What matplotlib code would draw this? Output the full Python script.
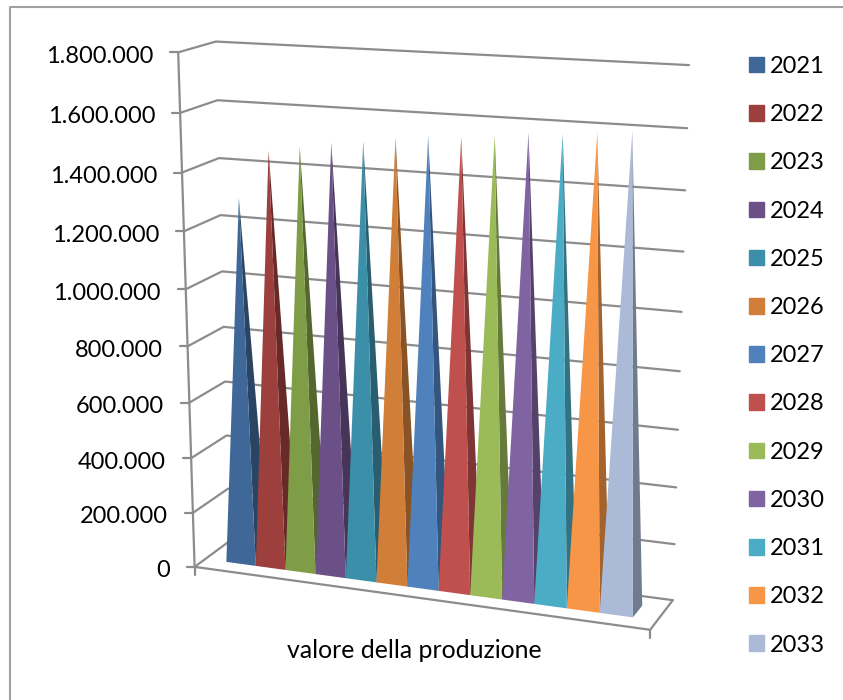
import numpy as np
import matplotlib
matplotlib.use("Agg")
import matplotlib.pyplot as plt
from matplotlib.patches import Patch

years = ["2021", "2022", "2023", "2024", "2025", "2026", "2027",
         "2028", "2029", "2030", "2031", "2032", "2033"]
values = [1297000, 1466000, 1487000, 1506000, 1517000, 1539000, 1549000,
          1553000, 1566000, 1580000, 1584000, 1595000, 1605000]
colors = ["#3F6898", "#9C3F3D", "#7F9C47", "#6A5086", "#3C8FA8", "#D07E38", "#4F81BD",
          "#C0504D", "#9BBB59", "#8064A2", "#4BACC6", "#F79646", "#AABAD7"]
ticks = [0, 200000, 400000, 600000, 800000, 1000000, 1200000, 1400000, 1600000, 1800000]
ymax = 1800000
line_col = "#8C8C8C"
font = "Lato"

#Corners of the 3D box (u along categories, d depth, z height) and where they land in the picture
box = [(0, 0, 0), (0, 0, 1), (0, 1, 1), (0, 1, 0), (1, 1, 1), (1, 1, 0), (1, 0, 0)]
pix = [(194, 567), (178, 53), (216, 41), (230, 541), (689, 65), (672, 601), (651, 629)]

#Fit a camera matrix so the perspective of the Excel chart can be reproduced
rows = []
rhs = []
for (u, d, z), (px, py) in zip(box, pix):
    rows.append([u, d, z, 1, 0, 0, 0, 0, -px * u, -px * d, -px * z])
    rows.append([0, 0, 0, 0, u, d, z, 1, -py * u, -py * d, -py * z])
    rhs += [px, py]
cam = np.append(np.linalg.lstsq(np.array(rows, float), np.array(rhs, float), rcond=None)[0], 1).reshape(3, 4)


def project(u, d, v):
    p = cam @ np.array([u, d, v / ymax, 1.0])
    return p[0] / p[2], p[1] / p[2]


def shade(col, k):
    return tuple(c * k for c in matplotlib.colors.to_rgb(col))


fig = plt.figure(figsize=(8.43, 7), dpi=100)
ax = fig.add_axes([0, 0, 1, 1])
ax.set_xlim(0, 843)
ax.set_ylim(700, 0)
ax.axis("off")


def line(points, lw=1.6):
    xs, ys = zip(*points)
    ax.plot(xs, ys, color=line_col, lw=lw, solid_capstyle="round", solid_joinstyle="round", zorder=1)


#Outer frame
ax.plot([10, 10, 843], [700, 7, 7], color="#A0A0A0", lw=1.5)

#Walls and floor
for t in ticks:
    line([project(0, 0, t), project(0, 1, t), project(1, 1, t)])
    x, y = project(0, 0, t)
    line([(x - 8, y), (x, y)])
    ax.text(x - 25, y + 4, f"{t:,}".replace(",", "."), ha="right", va="center", fontsize=17, family=font, color="black")
line([project(0, 0, 0), project(0, 0, ymax)])
line([project(0, 0, 0), project(1, 0, 0), project(1, 1, 0)])
for u in [0, 1]:
    x, y = project(u, 0, 0)
    line([(x, y), (x, y + 8)])

#Pyramids, left to right so each front face covers the previous side face
n = len(values)
gap = 0.05
d0, d1 = 0.3, 0.7
step = (1 - 2 * gap) / n
for i, v in enumerate(values):
    u0 = gap + i * step
    u1 = u0 + step
    apex = project((u0 + u1) / 2, 0.5, v)
    side = [project(u1, d0, 0), project(u1, d1, 0), apex]
    front = [project(u0, d0, 0), project(u1, d0, 0), apex]
    ax.fill(*zip(*side), color=shade(colors[i], 0.66), lw=0, zorder=3)
    ax.fill(*zip(*front), color=colors[i], lw=0, zorder=3)

ax.text(414, 651, "valore della produzione", ha="center", va="center", fontsize=17.9, family=font, color="black")

handles = [Patch(color=c, label=y) for c, y in zip(colors, years)]
ax.legend(handles=handles, loc="upper left", bbox_to_anchor=(749 / 843, 1 - 56 / 700), frameon=False,
          prop={"family": font, "size": 17}, handlelength=0.635, handleheight=0.635,
          labelspacing=1.1525, handletextpad=0.26, borderpad=0, borderaxespad=0)

fig.savefig("out.png", dpi=100)
